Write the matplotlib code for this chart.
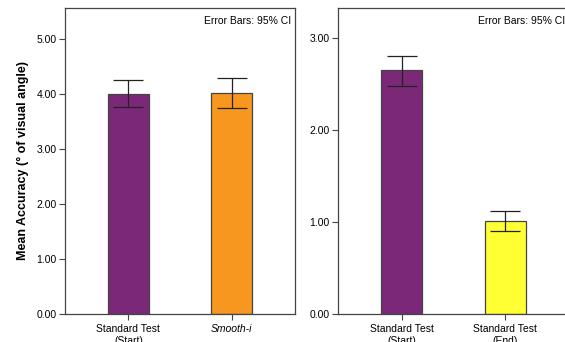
import matplotlib.pyplot as plt

plt.rcParams['font.family'] = ['Liberation Sans', 'DejaVu Sans']

# Left panel: standard test vs Smooth-i
left_labels = ["Standard Test\n(Start)", "Smooth-i"]
left_means = [4.00, 4.02]
left_low = [3.76, 3.74]
left_high = [4.25, 4.29]
left_colors = ["#7b2879", "#f7971f"]

# Right panel: standard test start vs end
right_labels = ["Standard Test\n(Start)", "Standard Test\n(End)"]
right_means = [2.65, 1.01]
right_low = [2.48, 0.90]
right_high = [2.81, 1.12]
right_colors = ["#7b2879", "#ffff33"]

fig = plt.figure(figsize=(5.65, 3.42), dpi=100)
ax1 = fig.add_axes([0.115, 0.082, 0.407, 0.895])
ax2 = fig.add_axes([0.598, 0.082, 0.409, 0.895])

edge = "#444444"


def draw(ax, labels, means, low, high, colors, ymax, yticks):
    x = list(range(len(means)))
    err = [[m - l for m, l in zip(means, low)], [h - m for m, h in zip(means, high)]]
    ax.bar(x, means, width=0.4, color=colors, edgecolor=edge, linewidth=0.9, zorder=2)
    ax.errorbar(x, means, yerr=err, fmt='none', ecolor="#222222", elinewidth=0.9,
                capsize=11, capthick=0.9, zorder=3)
    ax.set_xlim(-0.615, 1.615)
    ax.set_ylim(0, ymax)
    ax.set_yticks(yticks)
    ax.set_yticklabels([f"{t:.2f}" for t in yticks])
    ax.set_xticks(x)
    ax.set_xticklabels(labels)
    ax.tick_params(axis='both', direction='out', length=4, width=0.8, color=edge,
                   labelsize=7.5, pad=2)
    ax.tick_params(axis='x', pad=3.5)
    for s in ax.spines.values():
        s.set_color(edge)
        s.set_linewidth(0.9)
    ax.text(0.985, 0.975, "Error Bars: 95% CI", transform=ax.transAxes,
            ha='right', va='top', fontsize=7.5)


draw(ax1, left_labels, left_means, left_low, left_high, left_colors,
     5.56, [0, 1, 2, 3, 4, 5])
draw(ax2, right_labels, right_means, right_low, right_high, right_colors,
     3.33, [0, 1, 2, 3])

ax1.get_xticklabels()[1].set_style('italic')
ax1.set_ylabel("Mean Accuracy (° of visual angle)", fontsize=9,
               fontweight='bold', labelpad=5)

fig.savefig("out.png", dpi=100)
